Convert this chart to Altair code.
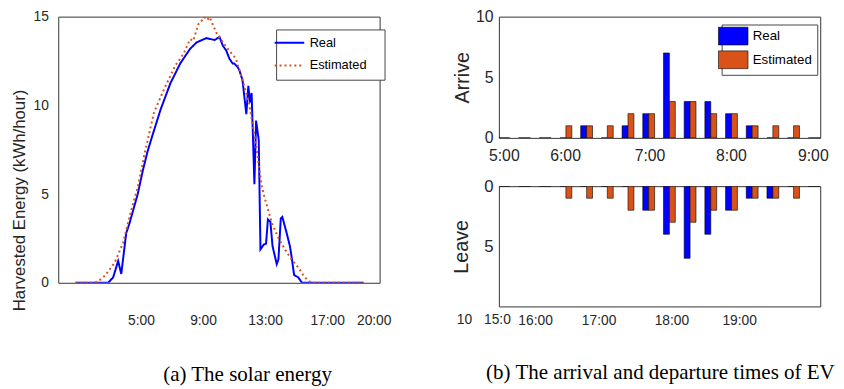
import altair as alt
import pandas as pd

# ---------------- (a) solar energy ----------------
real_hour = [0.78, 2.89, 3.21, 3.53, 3.73, 4.05, 4.26, 4.79, 5.11, 5.42, 5.74, 6.27, 6.90, 7.53,
             8.16, 8.59, 9.22, 9.75, 10.06, 10.27, 10.49, 10.70, 10.91, 11.01, 11.22, 11.33,
             11.54, 11.79, 11.92, 12.03, 12.13, 12.31, 12.42, 12.59, 12.70, 12.91, 13.06, 13.18,
             13.34, 13.48, 13.75, 13.86, 14.01, 14.11, 14.39, 14.60, 14.70, 14.87, 15.13, 15.38, 19.35]
real_energy = [0, 0, 0.31, 1.23, 0.5, 2.8, 3.35, 5.0, 6.29, 7.39, 8.31, 9.78, 11.25, 12.36,
               13.18, 13.55, 13.79, 13.68, 13.86, 13.37, 13.1, 12.63, 12.36, 12.36, 12.17, 12.0,
               11.44, 9.5, 11.1, 10.15, 10.7, 5.55, 9.14, 8.04, 1.88, 2.15, 2.2, 3.57,
               3.44, 2.06, 1.05, 1.32, 3.62, 3.71, 2.8, 2.06, 1.51, 0.44, 0.31, 0, 0]
est_hour = [0.78, 2.04, 2.34, 2.68, 3.31, 3.84, 4.37, 4.79, 5.11, 5.21, 5.84, 6.47, 7.22, 7.74,
            8.16, 8.37, 8.69, 9.11, 9.26, 9.43, 9.85, 10.06, 10.49, 11.12, 11.54, 11.96, 12.17,
            12.39, 12.59, 12.80, 13.02, 13.44, 13.86, 14.28, 14.70, 15.13, 15.55, 15.97, 19.35]
est_energy = [0, 0, 0.15, 0.4, 1.14, 2.24, 4.08, 5.37, 6.75, 7.2, 9.6, 10.88, 12.26, 12.9,
              13.73, 13.64, 14.56, 14.97, 14.8, 14.97, 14.1, 13.83, 13.3, 12.63, 11.44, 10.15, 9.05,
              7.94, 6.66, 5.37, 4.63, 3.35, 2.52, 1.88, 1.32, 0.87, 0.31, 0, 0]
hour_ticks = [5, 9, 13, 17, 20]

# ---------------- (b) arrival / departure ----------------
slots = list(range(16))
arrive_real = [0, 0, 0, 0, 1, 0, 1, 2, 7, 3, 3, 2, 1, 0, 0, 0]
arrive_est = [0, 0, 0, 1, 1, 1, 2, 2, 3, 3, 2, 2, 1, 1, 1, 0]
leave_real = [0, 0, 0, 0, 0, 0, 0, 2, 4, 6, 4, 2, 1, 1, 0, 0]
leave_est = [0, 0, 0, 1, 1, 1, 2, 2, 3, 3, 2, 2, 1, 1, 1, 0]
arrive_tick_pos = [0, 2.96, 7.04, 10.97, 14.93]
arrive_tick_lab = ['5:00', '6:00', '7:00', '8:00', '9:00']
leave_tick_pos = [1.51, 4.58, 8.10, 11.37]
leave_tick_lab = ['16:00', '17:00', '18:00', '19:00']
# stray labels that sit left of the leave panel
leave_extra_pos = [-1.90, -0.31]
leave_extra_lab = ['10', '15:0']

series = ['Real', 'Estimated']
colors = ['#0000FF', '#D95319']
TXT = '#262626'


def label_expr(pos, lab):
    expr = "'%s'" % lab[-1]
    for i in range(len(pos) - 2, -1, -1):
        expr = "datum.value < %s ? '%s' : %s" % ((pos[i] + pos[i + 1]) / 2, lab[i], expr)
    return expr


solar = pd.DataFrame({
    'hour': real_hour + est_hour,
    'energy': real_energy + est_energy,
    'series': ['Real'] * len(real_hour) + ['Estimated'] * len(est_hour),
})

# an invisible title on the right side widens the legend box like MATLAB's
leg_line = alt.Legend(title='.', titleOrient='right', titleOpacity=0, titleFontSize=13,
                      titlePadding=7, orient='none', legendX=221, legendY=13,
                      fillColor='white', strokeColor='#444', padding=7,
                      symbolType='M-3,0H3', symbolSize=100, symbolStrokeWidth=2,
                      labelFontSize=13, labelOffset=14, rowPadding=9, labelColor='black')

left_plot = alt.Chart(solar).mark_line(strokeWidth=2, clip=True).encode(
    x=alt.X('hour:Q', scale=alt.Scale(domain=[-0.33, 20.38], nice=False, zero=False),
            axis=alt.Axis(title=None, values=hour_ticks, labelExpr="datum.value + ':00'",
                          ticks=False, domain=False, grid=False, labelPadding=31,
                          labelFontSize=14, labelFlush=False, labelOverlap=False, labelColor=TXT)),
    y=alt.Y('energy:Q', scale=alt.Scale(domain=[0, 15], nice=False),
            axis=alt.Axis(title='Harvested Energy (kWh/hour)', values=[0, 5, 10, 15], ticks=False,
                          domain=False, grid=False, labelPadding=10, labelFontSize=14,
                          titleFontSize=17, titleFontWeight='normal', titlePadding=5, titleY=186,
                          labelColor=TXT, titleColor=TXT)),
    color=alt.Color('series:N', scale=alt.Scale(domain=series, range=colors), legend=leg_line),
    strokeDash=alt.StrokeDash('series:N', scale=alt.Scale(domain=series, range=[[1, 0], [2, 3]]),
                              legend=leg_line),
).properties(
    width=326, height=270,
    title=alt.TitleParams('(a) The solar energy', orient='bottom', anchor='middle', dx=29,
                          offset=38, font='Liberation Serif', fontSize=21.3, fontWeight='normal',
                          color='black'),
)
left = alt.vconcat(left_plot)


def bar_panel(real_vals, est_vals, title, reverse, ypos_vals, tick_pos, tick_lab, legend,
              lab_pad, lab_size, height, title_pad, ylab_size):
    df_r = pd.DataFrame({'slot': slots, 'count': real_vals, 'series': 'Real'})
    df_e = pd.DataFrame({'slot': slots, 'count': est_vals, 'series': 'Estimated'})
    x = alt.X('slot:Q', scale=alt.Scale(domain=[0, 15.05], nice=False, zero=False),
              axis=alt.Axis(title=None, values=tick_pos, labelExpr=label_expr(tick_pos, tick_lab),
                            ticks=False, domain=False, grid=False, labelPadding=lab_pad,
                            labelFontSize=lab_size, labelFlush=False, labelOverlap=False,
                            labelColor=TXT))
    y = alt.Y('count:Q', scale=alt.Scale(domain=[0, 10], nice=False, reverse=reverse),
              axis=alt.Axis(title=title, values=ypos_vals, ticks=False, domain=False, grid=False,
                            labelPadding=6, labelFontSize=ylab_size, titleFontSize=20,
                            titleFontWeight='normal', titlePadding=title_pad, labelColor=TXT,
                            titleColor=TXT))
    color = alt.Color('series:N', scale=alt.Scale(domain=series, range=colors), legend=legend)
    lr = alt.Chart(df_r).mark_bar(size=6, xOffset=-3, stroke='black', strokeWidth=0.6, clip=True).encode(
        x=x, y=y, color=color)
    le = alt.Chart(df_e).mark_bar(size=6, xOffset=3, stroke='black', strokeWidth=0.6, clip=True).encode(
        x=x, y=y, color=color)
    return alt.layer(lr, le).properties(width=326, height=height)


leg_bar = alt.Legend(title=None, orient='none', legendX=226, legendY=8,
                     fillColor='white', strokeColor='#444', padding=5,
                     symbolType='M-3,-1.8H3V1.8H-3Z', symbolSize=100, symbolStrokeColor='black',
                     symbolStrokeWidth=0.6, symbolOpacity=1,
                     labelFontSize=13.5, labelOffset=13, rowPadding=3, labelColor='black')

top = bar_panel(arrive_real, arrive_est, 'Arrive', False, [0, 5, 10],
                arrive_tick_pos, arrive_tick_lab, leg_bar, 10, 16, 123, 3, 16)
bottom_bars = bar_panel(leave_real, leave_est, 'Leave', True, [0, 5],
                        leave_tick_pos, leave_tick_lab, None, 7, 14, 122, 12, 17)
extra = pd.DataFrame({'slot': leave_extra_pos, 'label': leave_extra_lab})
extra_text = alt.Chart(extra).mark_text(fontSize=14, color=TXT, baseline='middle', align='center').encode(
    x=alt.X('slot:Q'), y=alt.datum(11.16), text='label:N')
bottom = alt.layer(bottom_bars, extra_text)

right = alt.vconcat(top, bottom, spacing=12).resolve_scale(color='independent').properties(
    title=alt.TitleParams('(b) The arrival and departure times of EV', orient='bottom',
                          anchor='start', dx=35, offset=35, font='Liberation Serif',
                          fontSize=21.3, fontWeight='normal', color='black'))

chart = alt.hconcat(left, right, spacing=60).resolve_scale(
    color='independent', strokeDash='independent'
).properties(
    padding={'left': 1, 'top': -3, 'right': 0, 'bottom': 0}
).configure(font='Liberation Sans').configure_view(stroke='#333', strokeWidth=1)

chart.save('out.html', embed_options={'renderer': 'svg', 'actions': False})
